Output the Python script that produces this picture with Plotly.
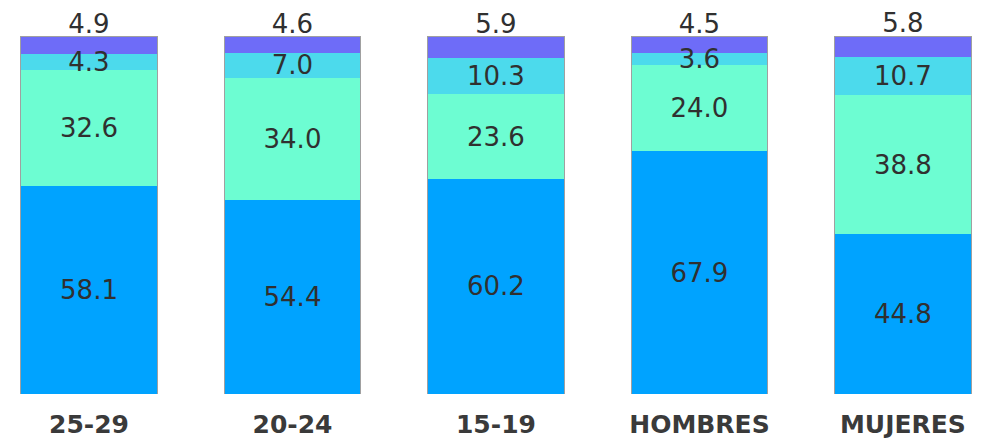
import plotly.graph_objects as go

categories = ["25-29", "20-24", "15-19", "HOMBRES", "MUJERES"]
s_blue = [58.1, 54.4, 60.2, 67.9, 44.8]
s_mint = [32.6, 34.0, 23.6, 24.0, 38.8]
s_cyan = [4.3, 7.0, 10.3, 3.6, 10.7]
s_purple = [4.9, 4.6, 5.9, 4.5, 5.8]

series = [
    (s_blue, "#00A3FF"),
    (s_mint, "#6DFDD2"),
    (s_cyan, "#4CDAEC"),
    (s_purple, "#6E6CF8"),
]
totals = [sum(v) for v in zip(*[s[0] for s in series])]

FONT = "DejaVu Sans"
XR = [-0.398, 4.487]
YR = [0, 100.15]
YR_TOP = [1.4, 101.55]   # top labels sit a little closer to the bars
TXT = dict(family=FONT, size=26, color="#303030")

fig = go.Figure()
# coloured segments
for vals, col in series:
    fig.add_trace(go.Bar(
        x=categories, y=vals,
        marker=dict(color=col, line=dict(width=0)),
        hoverinfo="skip",
    ))
# inside labels on an overlaid axis so they sit above all segments
for i, (vals, col) in enumerate(series):
    inside = i < len(series) - 1
    fig.add_trace(go.Bar(
        x=categories, y=vals, xaxis="x2", yaxis="y2",
        marker=dict(color="rgba(0,0,0,0)", line=dict(width=0)),
        text=[f"{v:.1f}" for v in vals] if inside else None,
        textposition="inside" if inside else "none",
        insidetextanchor="middle",
        constraintext="none",
        cliponaxis=False,
        textfont=TXT,
        hoverinfo="skip",
    ))
# thin outline round each whole bar
fig.add_trace(go.Bar(
    x=categories, y=totals, xaxis="x3", yaxis="y3",
    marker=dict(color="rgba(0,0,0,0)", line=dict(color="#a0a0a0", width=1)),
    hoverinfo="skip",
))
# top-segment values shown above each bar
fig.add_trace(go.Bar(
    x=categories, y=totals, xaxis="x4", yaxis="y4",
    marker=dict(color="rgba(0,0,0,0)", line=dict(width=0)),
    text=[f"{v:.1f}" for v in s_purple],
    textposition="outside",
    constraintext="none",
    cliponaxis=False,
    textfont=TXT,
    hoverinfo="skip",
))

hidden = dict(visible=False, automargin=False)
fig.update_layout(
    barmode="stack",
    bargap=0.33,
    showlegend=False,
    width=994, height=441,
    margin=dict(l=0, r=0, t=28, b=55, autoexpand=False),
    plot_bgcolor="white", paper_bgcolor="white",
    xaxis=dict(range=XR, showgrid=False, zeroline=False, showline=False,
               automargin=False,
               tickfont=dict(family=FONT, size=25, color="#3a3a3a", weight="bold"),
               ticks="", ticklabelstandoff=13),
    yaxis=dict(range=YR, **hidden),
    xaxis2=dict(range=XR, overlaying="x", **hidden),
    yaxis2=dict(range=YR, overlaying="y", **hidden),
    xaxis3=dict(range=XR, overlaying="x", **hidden),
    yaxis3=dict(range=YR, overlaying="y", **hidden),
    xaxis4=dict(range=XR, overlaying="x", **hidden),
    yaxis4=dict(range=YR_TOP, overlaying="y", **hidden),
)
fig.write_html("out.html")
